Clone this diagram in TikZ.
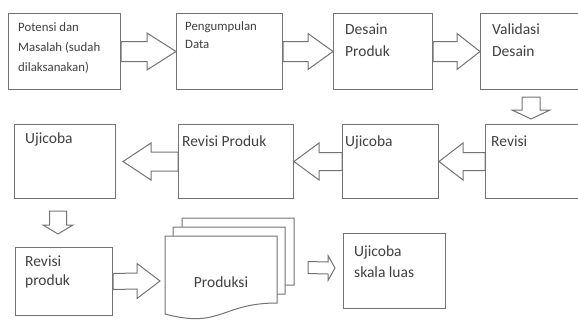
\documentclass[tikz,border=0pt]{standalone}
\usepackage{fontspec}
\setmainfont{Carlito}
\usetikzlibrary{calc}

\tikzset{
  outline/.style={draw=black!55, line width=1pt, line join=miter},
  box/.style={outline, rectangle, anchor=north west, inner sep=0pt},
  txt/.style={anchor=base west, inner sep=0pt, align=left, text=black!75,
    font=\fontsize{15.5}{22}\selectfont},
  smalltxt/.style={txt, font=\fontsize{12.8}{20}\selectfont},
}

% block arrow: tail, tip, shaft half width, head half width, head length
\newcommand{\harrow}[5]{%
  \draw[outline] ($#1+(0,-#3)$) -- ($#2-(#5,#3)$) -- ($#2-(#5,#4)$) -- #2
    -- ($#2-(#5,-#4)$) -- ($#2-(#5,-#3)$) -- ($#1+(0,#3)$) -- cycle;}
\newcommand{\varrow}[5]{%
  \draw[outline] ($#1+(-#3,0)$) -- ($#2-(#3,#5)$) -- ($#2-(#4,#5)$) -- #2
    -- ($#2-(-#4,#5)$) -- ($#2-(-#3,#5)$) -- ($#1+(#3,0)$) -- cycle;}
% one page of the stacked document shape
\newcommand{\docpage}[1]{%
  \draw[outline, fill=white, shift={#1}] (0,0) -- (112,0) -- (112,67)
    .. controls (56,67) and (56,93) .. (0,78) -- cycle;}

\begin{document}
\begin{tikzpicture}[x=1pt,y=-1pt]
  \clip (0,0) rectangle (578,322);

  % first row
  \node[box, minimum width=112, minimum height=76] (pm) at (8,13) {};
  \node[box, minimum width=106, minimum height=76] (pd) at (176,13) {};
  \node[box, minimum width=99, minimum height=76] (dp) at (333,13) {};
  \node[box, minimum width=110, minimum height=76] (vd) at (480,13) {};
  \node[smalltxt] at ([shift={(10,58)}]pm.north west) {Potensi dan\\Masalah (sudah\\dilaksanakan)};
  \node[smalltxt, font=\fontsize{12.8}{18}\selectfont] at ([shift={(9,35)}]pd.north west) {Pengumpulan\\Data};
  \node[txt] at ([shift={(12,43.5)}]dp.north west) {Desain\\Produk};
  \node[txt] at ([shift={(12,43.5)}]vd.north west) {Validasi\\Desain};

  \harrow{(pm.east)}{(pd.west)}{10}{18.5}{29}
  \harrow{(pd.east)}{(dp.west)}{10}{18}{25}
  \harrow{(dp.east)}{(vd.west)}{10}{18}{23}

  % second row
  \node[box, minimum width=101, minimum height=74] (uj1) at (14,124) {};
  \node[box, minimum width=115, minimum height=74] (rp) at (178,124) {};
  \node[box, minimum width=96, minimum height=74] (uj2) at (342,124) {};
  \node[box, minimum width=100, minimum height=74] (rv) at (485,124) {};
  \node[txt] at ([shift={(11,19)}]uj1.north west) {Ujicoba};
  \node[txt] at ([shift={(4,22)}]rp.north west) {Revisi Produk};
  \node[txt] at ([shift={(3,22)}]uj2.north west) {Ujicoba};
  \node[txt] at ([shift={(6,22)}]rv.north west) {Revisi};

  \coordinate (d1a) at ($(vd.south west)+(51,7)$);
  \coordinate (d1b) at ($(rv.north west)+(46,-5)$);
  \varrow{(d1a)}{(d1b)}{9}{19}{9}
  \harrow{(rv.west)}{(uj2.east)}{9}{18.5}{-24}
  \harrow{(uj2.west)}{(rp.east)}{9}{18.5}{-25}
  \coordinate (t3) at ($(uj1.east)+(7,0)$);
  \harrow{(rp.west)}{(t3)}{9.5}{18.5}{-28}

  % third row
  \node[box, minimum width=97, minimum height=68] (rpk) at (15,247) {};
  \node[txt, font=\fontsize{15.5}{19}\selectfont] at ([shift={(10,38)}]rpk.north west) {Revisi\\produk};
  \coordinate (fp) at (165,236);
  \docpage{($(fp)+(17,-18)$)}
  \docpage{($(fp)+(8,-9)$)}
  \docpage{(fp)}
  \node[txt, anchor=base] (prod) at ($(fp)+(56,51)$) {Produksi};
  \node[box, minimum width=102, minimum height=75] (usl) at (343,233) {};
  \node[txt, font=\fontsize{15.5}{21}\selectfont] at ([shift={(11,44)}]usl.north west) {Ujicoba\\skala luas};

  \coordinate (d2a) at ($(uj1.south west)+(44,12)$);
  \coordinate (d2b) at ($(rpk.north west)+(43,-13)$);
  \varrow{(d2a)}{(d2b)}{8.5}{15}{9}
  \coordinate (t7) at ($(fp)+(-5,45)$);
  \harrow{(rpk.east)}{(t7)}{8}{17.5}{23}
  \coordinate (s8) at ($(fp)+(143,31.5)$);
  \coordinate (t8) at ($(usl.west)+(-8,-3)$);
  \harrow{(s8)}{(t8)}{6}{12.5}{7}
\end{tikzpicture}
\end{document}
